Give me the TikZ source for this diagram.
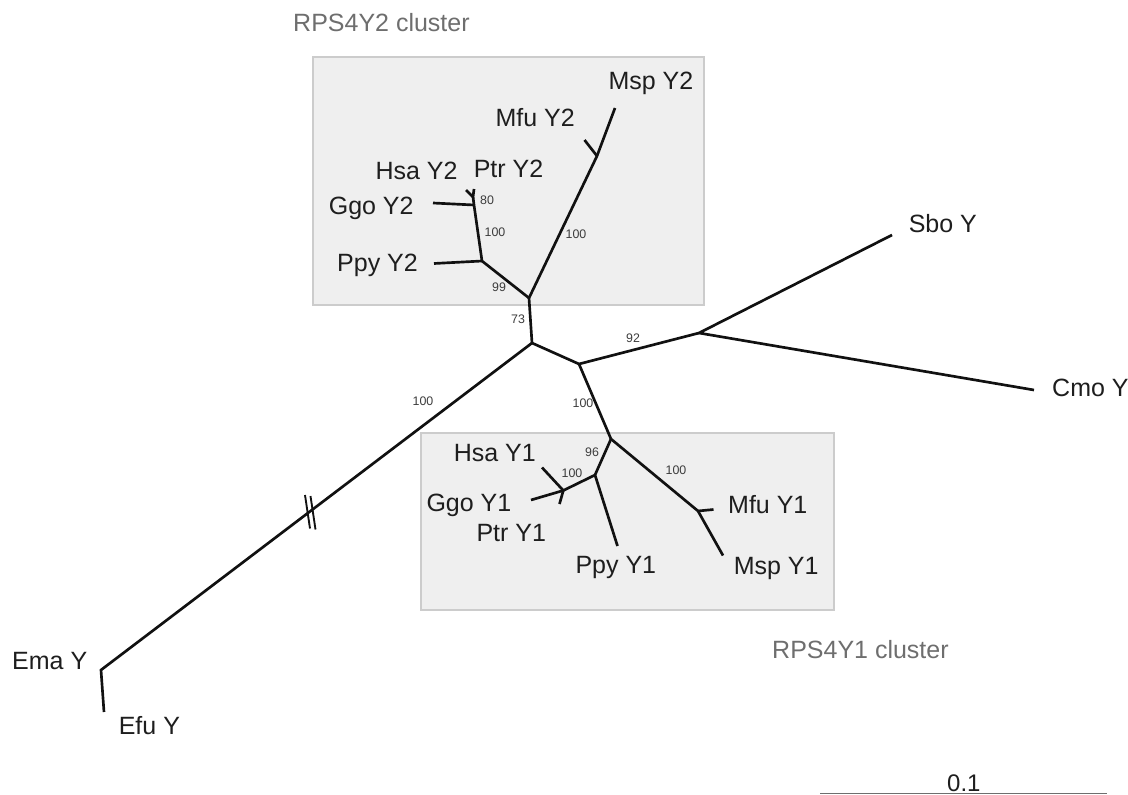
\documentclass[tikz,border=0pt]{standalone}
\usepackage{fontspec}
\setmainfont{Liberation Sans}

\tikzset{every picture/.style={line width=0.75pt}}

\begin{document}
\begin{tikzpicture}[x=0.75pt,y=0.75pt,yscale=-1,xscale=1,
	branch/.style={draw={rgb, 255:red, 17; green, 17; blue, 17 }, line width=2pt},
	clusterbox/.style={draw={rgb, 255:red, 204; green, 204; blue, 204 }, line width=2.2pt, fill={rgb, 255:red, 239; green, 239; blue, 239 }},
	taxon/.style={anchor=base west, inner sep=0pt, text={rgb, 255:red, 30; green, 30; blue, 30 }, font=\fontsize{18.75}{22}\selectfont},
	clusterlbl/.style={anchor=base west, inner sep=0pt, text={rgb, 255:red, 110; green, 110; blue, 110 }, font=\fontsize{18.75}{22}\selectfont},
	boot/.style={inner sep=0pt, text={rgb, 255:red, 60; green, 60; blue, 60 }, font=\fontsize{9.3}{11}\selectfont}]
	\useasboundingbox (0,0) rectangle (1128,795);

	%Shape: Rectangle [RPS4Y2 cluster]
	\draw [clusterbox] (313,57) -- (704,57) -- (704,305) -- (313,305) -- cycle ;
	%Shape: Rectangle [RPS4Y1 cluster]
	\draw [clusterbox] (421,433) -- (834,433) -- (834,610) -- (421,610) -- cycle ;

	% Tree nodes
	\coordinate (root) at (532,343);
	\coordinate (y2root) at (529,298);
	\coordinate (ysplit) at (579,364);
	\coordinate (outgrp) at (699,333);
	\coordinate (y1root) at (611,439);
	\coordinate (emaN) at (101,670);
	\coordinate (efuN) at (104,712);
	\coordinate (sboN) at (892,235);
	\coordinate (cmoN) at (1034,390);
	% Y2 nodes
	\coordinate (ppyY2n) at (482,261);
	\coordinate (ppyY2) at (434,263.5);
	\coordinate (ggoY2n) at (474,205);
	\coordinate (ggoY2) at (433,203);
	\coordinate (hsaptrY2n) at (473,197);
	\coordinate (hsaY2) at (466,190);
	\coordinate (ptrY2) at (474,189);
	\coordinate (macY2n) at (597,156);
	\coordinate (mfuY2) at (584.5,140);
	\coordinate (mspY2) at (615,108);
	% Y1 nodes
	\coordinate (ppyY1n) at (595,475);
	\coordinate (ppyY1) at (617.5,546);
	\coordinate (homY1n) at (563.3,490.5);
	\coordinate (ggoY1) at (531,500);
	\coordinate (hsaY1) at (542,467.5);
	\coordinate (ptrY1) at (559.5,504);
	\coordinate (macY1n) at (698,511);
	\coordinate (mfuY1) at (713.5,509.5);
	\coordinate (mspY1) at (723,555.5);

	%Straight Lines [backbone]
	\draw [branch] (y2root) -- (root) -- (ysplit) -- (outgrp) ;
	\draw [branch] (root) -- (emaN) -- (efuN) ;
	\draw [branch] (sboN) -- (outgrp) -- (cmoN) ;
	\draw [branch] (ysplit) -- (y1root) ;
	%Straight Lines [Y2 clade]
	\draw [branch] (y2root) -- (ppyY2n) -- (ggoY2n) -- (hsaptrY2n) ;
	\draw [branch] (ppyY2n) -- (ppyY2) ;
	\draw [branch] (ggoY2n) -- (ggoY2) ;
	\draw [branch] (hsaY2) -- (hsaptrY2n) -- (ptrY2) ;
	\draw [branch] (y2root) -- (macY2n) -- (mspY2) ;
	\draw [branch] (macY2n) -- (mfuY2) ;
	%Straight Lines [Y1 clade]
	\draw [branch] (y1root) -- (ppyY1n) -- (homY1n) -- (ggoY1) ;
	\draw [branch] (ppyY1n) -- (ppyY1) ;
	\draw [branch] (homY1n) -- (hsaY1) ;
	\draw [branch] (homY1n) -- (ptrY1) ;
	\draw [branch] (y1root) -- (macY1n) -- (mspY1) ;
	\draw [branch] (macY1n) -- (mfuY1) ;
	%Straight Lines [break marks]
	\draw [branch, line width=1.4pt] (305,495) -- (310,528.5) ;
	\draw [branch, line width=1.4pt] (310.5,496) -- (315.5,529.5) ;
	%Straight Lines [scale bar]
	\draw [draw={rgb, 255:red, 110; green, 110; blue, 110 }, line width=1.1pt] (820,793.5) coordinate (barL) -- (1107,793.5) coordinate (barR) ;

	% Text Node
	\node [clusterlbl] (lblY2) at (292.7,31.3) {RPS4Y2 cluster};
	\node [clusterlbl] (lblY1) at (771.7,658) {RPS4Y1 cluster};
	\node [taxon] (txMspY2) at (608,89.7) {Msp Y2};
	\node [taxon] (txMfuY2) at (495,126.3) {Mfu Y2};
	\node [taxon] (txHsaY2) at (375,179.7) {Hsa Y2};
	\node [taxon] (txPtrY2) at (473.3,178) {Ptr Y2};
	\node [taxon] (txGgoY2) at (328.3,214.7) {Ggo Y2};
	\node [taxon] (txPpyY2) at (336.7,271.3) {Ppy Y2};
	\node [taxon] (txHsaY1) at (453.3,461.3) {Hsa Y1};
	\node [taxon] (txGgoY1) at (426,511.3) {Ggo Y1};
	\node [taxon] (txPtrY1) at (476,541.3) {Ptr Y1};
	\node [taxon] (txPpyY1) at (575,573) {Ppy Y1};
	\node [taxon] (txMfuY1) at (727.7,513) {Mfu Y1};
	\node [taxon] (txMspY1) at (733.3,574.7) {Msp Y1};
	\node [taxon] (txSbo) at (908.3,233) {Sbo Y};
	\node [taxon] (txCmo) at (1051.7,396.3) {Cmo Y};
	\node [taxon] (txEma) at (11.7,669.7) {Ema Y};
	\node [taxon] (txEfu) at (118.3,734.7) {Efu Y};
	\node [taxon, font=\fontsize{18}{21}\selectfont] (txBar) at (946.7,791.5) {0.1};
	% bootstrap values
	\node [boot] (bs80) at (487,200) {80};
	\node [boot] (bsGgoY2) at (495,232) {100};
	\node [boot] (bs99) at (499,287) {99};
	\node [boot] (bsMacY2) at (576,234) {100};
	\node [boot] (bs73) at (518,319) {73};
	\node [boot] (bs92) at (633,338) {92};
	\node [boot] (bsEut) at (423,401) {100};
	\node [boot] (bsY1) at (583,403) {100};
	\node [boot] (bs96) at (592,452) {96};
	\node [boot] (bsHomY1) at (572,473) {100};
	\node [boot] (bsMacY1) at (676,470) {100};

\end{tikzpicture}
\end{document}
